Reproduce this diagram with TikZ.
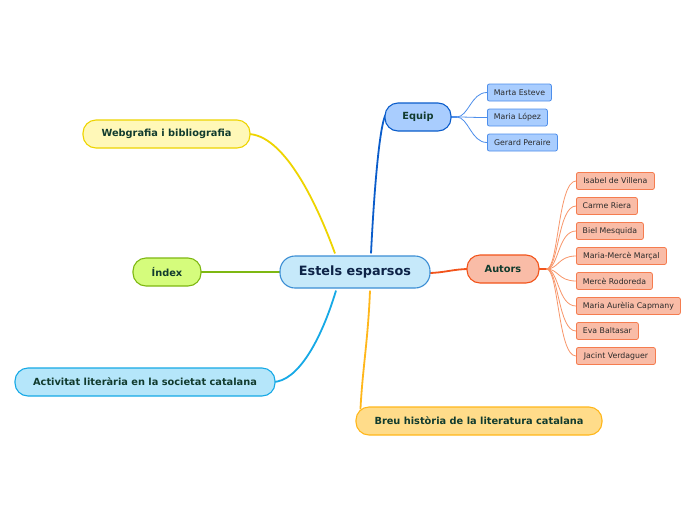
\documentclass[tikz,border=0pt]{standalone}
\usepackage{fontspec}
\setmainfont{DejaVu Sans}
\usetikzlibrary{backgrounds}
\definecolor{ctrF}{HTML}{C6E9FA}\definecolor{ctrD}{HTML}{3B8ED4}\definecolor{ctrT}{HTML}{0D2347}
\definecolor{eqF}{HTML}{A9CDFE}\definecolor{eqD}{HTML}{0B5DCB}\definecolor{eqC}{HTML}{4D8EEB}
\definecolor{auF}{HTML}{F9BCA7}\definecolor{auD}{HTML}{F2541B}\definecolor{auC}{HTML}{F57C4F}\definecolor{auL}{HTML}{F8966A}
\definecolor{wbF}{HTML}{FFF8B8}\definecolor{wbD}{HTML}{EED400}
\definecolor{ixF}{HTML}{D5FC7C}\definecolor{ixD}{HTML}{7EB812}
\definecolor{acF}{HTML}{B5E6FA}\definecolor{acD}{HTML}{16A9E6}
\definecolor{brF}{HTML}{FFDC8A}\definecolor{brD}{HTML}{FFB71B}
\definecolor{mainT}{HTML}{113B2E}\definecolor{childT}{HTML}{2A2A2A}
\tikzset{
  mainbox/.style={rounded corners=13pt, line width=1.1pt, minimum height=28pt, inner sep=0pt,
    font=\fontsize{9.8}{11}\selectfont\bfseries, text=mainT},
  childbox/.style={rounded corners=2pt, line width=0.8pt, minimum height=17pt, inner sep=0pt,
    font=\fontsize{7.8}{9}\selectfont, text=childT, anchor=west},
  maincon/.style={line width=1.8pt},
  childcon/.style={line width=0.8pt},
}
\begin{document}
\begin{tikzpicture}[x=1pt,y=-1pt]
\useasboundingbox (0,0) rectangle (696,520);
% central
\node[mainbox, fill=ctrF, draw=ctrD, minimum width=150pt, minimum height=32pt, rounded corners=15pt,
  font=\fontsize{12.8}{14}\selectfont\bfseries, text=ctrT] (C) at (355,272) {Estels esparsos};
% main nodes
\node[mainbox, fill=eqF, draw=eqD, minimum width=66pt] (EQ) at (418,117) {Equip};
\node[mainbox, fill=auF, draw=auD, minimum width=72pt] (AU) at (503,269) {Autors};
\node[mainbox, fill=wbF, draw=wbD, minimum width=167pt] (WB) at (166.5,134) {Webgrafia i bibliografia};
\node[mainbox, fill=ixF, draw=ixD, minimum width=68pt] (IX) at (167,272) {Índex};
\node[mainbox, fill=acF, draw=acD, minimum width=260pt] (AC) at (145,382) {Activitat literària en la societat catalana};
\node[mainbox, fill=brF, draw=brD, minimum width=246pt] (BR) at (479,421) {Breu història de la literatura catalana};
% Equip children
\node[childbox, fill=eqF, draw=eqC, minimum width=64pt] (E1) at (487,92.5) {Marta Esteve};
\node[childbox, fill=eqF, draw=eqC, minimum width=60pt] (E2) at (487,117.5) {Maria López};
\node[childbox, fill=eqF, draw=eqC, minimum width=70pt] (E3) at (487,142.5) {Gerard Peraire};
% Autors children
\node[childbox, fill=auF, draw=auC, minimum width=78pt] (A1) at (576,181) {Isabel de Villena};
\node[childbox, fill=auF, draw=auC, minimum width=61pt] (A2) at (576,206) {Carme Riera};
\node[childbox, fill=auF, draw=auC, minimum width=67pt] (A3) at (576,231) {Biel Mesquida};
\node[childbox, fill=auF, draw=auC, minimum width=90pt] (A4) at (576,256) {Maria-Mercè Marçal};
\node[childbox, fill=auF, draw=auC, minimum width=76pt] (A5) at (576,281) {Mercè Rodoreda};
\node[childbox, fill=auF, draw=auC, minimum width=104pt] (A6) at (576,306) {Maria Aurèlia Capmany};
\node[childbox, fill=auF, draw=auC, minimum width=62pt] (A7) at (576,331) {Eva Baltasar};
\node[childbox, fill=auF, draw=auC, minimum width=79pt] (A8) at (576,356) {Jacint Verdaguer};
\coordinate (EQo) at ([xshift=5pt]EQ.east);
\coordinate (AUo) at ([xshift=7pt]AU.east);
\begin{scope}[on background layer]
\fill[white] (0,0) rectangle (696,520);
\draw[maincon, draw=eqD] ([xshift=16pt,yshift=2pt]C.north) .. controls +(4,-80) and +(-5,10) .. ([xshift=1pt,yshift=2pt]EQ.west);
\draw[maincon, draw=auD] ([yshift=-1pt,xshift=-3pt]C.east) to[out=0,in=180] ([xshift=3pt]AU.west);
\draw[maincon, draw=wbD] ([xshift=-3pt]WB.east) .. controls +(35,0) and +(-20,-55) .. ([xshift=-20pt,yshift=2pt]C.north);
\draw[maincon, draw=ixD] ([xshift=3pt]C.west) -- ([xshift=-3pt]IX.east);
\draw[maincon, draw=acD] ([xshift=-19pt,yshift=-2pt]C.south) .. controls +(-15,50) and +(25,0) .. ([xshift=-3pt]AC.east);
\draw[maincon, draw=brD] ([xshift=15pt,yshift=-2pt]C.south) .. controls +(-2,50) and +(2,-40) .. ([xshift=5pt,yshift=-3pt]BR.north west);
\draw[line width=1.4pt, draw=eqC] ([xshift=-2pt]EQ.east) -- (EQo);
\draw[line width=1.8pt, draw=auD] ([xshift=-2pt]AU.east) -- (AUo);
\foreach \n in {E1,E2,E3}
  \draw[childcon, draw=eqC] (EQo) .. controls +(12,0) and +(-16,0) .. (\n.west);
\foreach \n in {A1,A2,A3,A4,A5,A6,A7,A8}
  \draw[childcon, draw=auL] (AUo) .. controls +(12,0) and +(-18,0) .. (\n.west);
\end{scope}
\end{tikzpicture}
\end{document}
